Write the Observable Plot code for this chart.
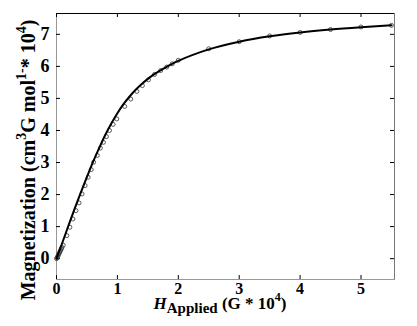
<!DOCTYPE html>
<html><head><meta charset="utf-8">
<script src="https://cdn.jsdelivr.net/npm/d3@7"></script>
<script src="https://cdn.jsdelivr.net/npm/@observablehq/plot@0.6"></script>
<style>body{margin:0;background:#fff}</style>
</head><body><div id="chart"></div>
<script>
// measured points (H in G*10^4, M)
const pointH = [0.0,0.01,0.02,0.03,0.04,0.05,0.06,0.07,0.08,0.09,0.11,
  0.17,0.22,0.27,0.32,0.37,0.42,0.47,0.52,0.57,0.61,0.67,0.72,0.77,0.82,0.87,0.93,0.99,
  1.12,1.22,1.32,1.41,1.51,1.61,1.71,1.81,1.90,2.0,
  2.5,3.0,3.5,4.0,4.5,5.0,5.5];
const pointM = [0.0,0.03,0.07,0.11,0.15,0.19,0.23,0.27,0.31,0.35,0.42,
  0.72,0.98,1.24,1.50,1.74,2.02,2.28,2.54,2.78,3.01,3.22,3.45,3.63,3.81,4.00,4.19,4.36,
  4.75,4.98,5.22,5.40,5.58,5.75,5.87,5.98,6.08,6.19,
  6.55,6.77,6.95,7.06,7.15,7.23,7.28];
// fitted curve
const fitH = [0,0.1,0.2,0.3,0.4,0.5,0.6,0.7,0.8,0.9,1.0,1.1,1.2,1.3,1.4,1.5,1.6,1.7,1.8,1.9,2.0,2.5,3.0,3.5,4.0,4.5,5.0,5.5];
const fitM = [0,0.52,1.05,1.57,2.07,2.55,3.02,3.45,3.86,4.22,4.54,4.82,5.06,5.27,5.45,5.61,5.75,5.87,5.98,6.08,6.17,6.53,6.77,6.94,7.06,7.15,7.22,7.28];
const xTicks = [0,1,2,3,4,5];
const yTicks = [0,1,2,3,4,5,6,7];
const xDomain = [0, 5.55];
const yDomain = [-0.65, 7.65];

const points = pointH.map((h,i)=>({h, m: pointM[i]}));
const fit = fitH.map((h,i)=>({h, m: fitM[i]}));

const W = 417, H = 326, mt = 13, mb = 47, ml = 56, mr = 23;
const fh = H - mt - mb, fw = W - ml - mr, tk = 4;
const ff = "'Liberation Serif', 'Times New Roman', serif";

const plot = Plot.plot({
  width: W, height: H,
  marginTop: mt, marginBottom: mb, marginLeft: ml, marginRight: mr,
  style: {fontFamily: ff, fontWeight: "bold", color: "#000", background: "#fff"},
  x: {domain: xDomain, label: null},
  y: {domain: yDomain, label: null},
  marks: [
    Plot.axisX(xTicks, {tickSize: 0, tickPadding: 3, label: null, fontSize: 16, fontWeight: "bold", fontFamily: ff, fill: "#000"}),
    Plot.axisY(yTicks, {tickSize: 0, tickPadding: 7, label: null, fontSize: 18, fontWeight: "bold", fontFamily: ff, fill: "#000"}),
    Plot.frame({stroke: "#999"}),
    Plot.ruleY([yDomain[1]], {stroke: "#000"}),
    Plot.ruleX([xDomain[1]], {stroke: "#777"}),
    Plot.tickX(xTicks, {insetTop: fh - tk, stroke: "#000"}),
    Plot.tickX(xTicks, {insetBottom: fh - tk, stroke: "#000"}),
    Plot.tickY(yTicks, {insetRight: fw - tk, stroke: "#000"}),
    Plot.tickY(yTicks, {insetLeft: fw - tk, stroke: "#000"}),
    Plot.dot(points, {x: "h", y: "m", r: 2, stroke: "#333", strokeWidth: 0.8, fill: "none"}),
    Plot.line(fit, {x: "h", y: "m", stroke: "#000", strokeWidth: 2, curve: "monotone-x"})
  ]
});
document.getElementById("chart").appendChild(plot);

const svg = d3.select(plot);
const xl = svg.append("text").attr("x", 220).attr("y", 309).attr("text-anchor", "middle")
  .attr("font-family", ff).attr("font-weight", "bold").attr("font-size", 17).attr("fill", "#000");
xl.append("tspan").attr("font-style", "italic").text("H");
xl.append("tspan").attr("font-size", 15).attr("dy", 4).text("Applied");
xl.append("tspan").attr("dy", -4).text(" (G * 10");
xl.append("tspan").attr("font-size", 12).attr("dy", -8).text("4");
xl.append("tspan").attr("dy", 8).text(")");

const yl = svg.append("text").attr("transform", "translate(35,160) rotate(-90)").attr("text-anchor", "middle")
  .attr("font-family", ff).attr("font-weight", "bold").attr("font-size", 20).attr("fill", "#000");
yl.append("tspan").text("Magnetization (cm");
yl.append("tspan").attr("font-size", 14).attr("dy", -9).text("3");
yl.append("tspan").attr("dy", 9).text("G mol");
yl.append("tspan").attr("font-size", 14).attr("dy", -9).text("1-");
yl.append("tspan").attr("dy", 9).text("* 10");
yl.append("tspan").attr("font-size", 14).attr("dy", -9).text("4");
yl.append("tspan").attr("dy", 9).text(")");
</script></body></html>
